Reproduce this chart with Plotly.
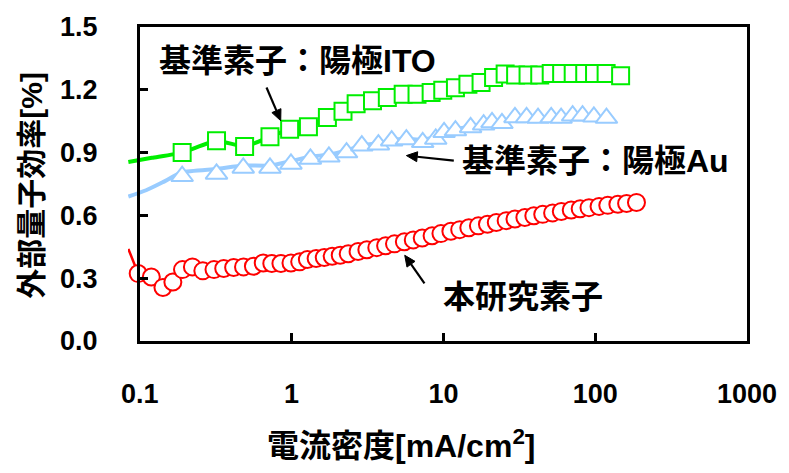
import math
import plotly.graph_objects as go

# ---------------- data ----------------
# reference device: anode ITO (green squares)
ito_x = [0.19, 0.32, 0.49, 0.72, 0.97, 1.29, 1.72, 2.18, 2.66, 3.41, 4.27, 5.43, 6.70, 8.3, 9.9,
         12.0, 14.5, 17.7, 21.4, 25.5, 29.9, 36.1, 43.1, 51.3, 60.1, 71.6, 85.3, 99, 118, 147]
ito_y = [0.900, 0.957, 0.929, 0.976, 1.011, 1.024, 1.068, 1.097, 1.133, 1.148, 1.163, 1.179, 1.179, 1.187, 1.198,
         1.210, 1.227, 1.235, 1.259, 1.275, 1.271, 1.271, 1.271, 1.278, 1.278, 1.278, 1.278, 1.278, 1.278, 1.267]
ito_line_x = [0.084, 0.12, 0.19, 0.32, 0.49, 0.72, 0.97, 1.29, 1.72, 2.18, 2.66, 3.41, 4.27, 5.43, 6.70, 8.3, 9.9,
              12.0, 14.5, 17.7, 21.4, 25.5, 29.9, 36.1, 43.1, 51.3, 60.1, 71.6, 85.3, 99, 118, 147]
ito_line_y = [0.855, 0.875, 0.900, 0.957, 0.929, 0.976, 1.011, 1.024, 1.068, 1.097, 1.133, 1.148, 1.163, 1.179, 1.179,
              1.187, 1.198, 1.210, 1.227, 1.235, 1.259, 1.275, 1.271, 1.271, 1.271, 1.278, 1.278, 1.278, 1.278, 1.278,
              1.278, 1.267]

# reference device: anode Au (light-blue triangles)
au_x = [0.19, 0.32, 0.48, 0.72, 0.99, 1.33, 1.76, 2.3, 2.9, 3.73, 4.56, 5.7, 7.3, 8.9, 10.1, 12.0, 15.1,
        18.4, 20.9, 24.3, 29.6, 35.3, 42, 51.3, 59.6, 71, 82.5, 98, 118.6]
au_y = [0.787, 0.798, 0.827, 0.827, 0.846, 0.870, 0.880, 0.900, 0.933, 0.938, 0.957, 0.962, 0.949, 0.965, 0.997,
        1.005, 1.020, 1.033, 1.044, 1.040, 1.068, 1.068, 1.065, 1.068, 1.065, 1.076, 1.076, 1.071, 1.065]
au_line_x = [0.084, 0.11, 0.142, 0.19, 0.32, 0.48, 0.72, 0.99, 1.33, 1.76, 2.3, 2.9, 3.73, 4.56, 5.7, 7.3, 8.9,
             10.1, 12.0, 15.1, 18.4, 20.9, 24.3, 29.6, 35.3, 42, 51.3, 59.6, 71, 82.5, 98, 118.6]
au_line_y = [0.690, 0.720, 0.759, 0.806, 0.822, 0.838, 0.838, 0.859, 0.881, 0.890, 0.910, 0.935, 0.945, 0.960,
             0.966, 0.962, 0.975, 1.000, 1.012, 1.025, 1.038, 1.045, 1.048, 1.062, 1.066, 1.066, 1.068, 1.068,
             1.070, 1.072, 1.070, 1.066]

# this work (red circles)
tw_x = [0.0975, 0.119, 0.142, 0.165, 0.191, 0.222, 0.26, 0.308, 0.357, 0.415, 0.482, 0.56, 0.65, 0.74, 0.85,
        0.99, 1.13, 1.27, 1.45, 1.64, 1.85, 2.09, 2.36, 2.74, 3.13, 3.64, 4.16, 4.76, 5.53, 6.33, 7.25, 8.42,
        9.63, 11.2, 12.8, 14.7, 17.0, 19.5, 22.3, 25.9, 29.6, 34.4, 39.4, 45.1, 52.4, 59.8, 69.5, 79.6, 91.0,
        106, 121, 141, 161, 187]
tw_y = [0.322, 0.306, 0.256, 0.282, 0.341, 0.354, 0.335, 0.341, 0.346, 0.351, 0.354, 0.357, 0.373, 0.370, 0.370,
        0.373, 0.378, 0.389, 0.394, 0.399, 0.405, 0.410, 0.417, 0.428, 0.436, 0.446, 0.455, 0.464, 0.474, 0.483,
        0.492, 0.503, 0.513, 0.524, 0.532, 0.541, 0.550, 0.558, 0.566, 0.575, 0.583, 0.590, 0.598, 0.605, 0.612,
        0.619, 0.626, 0.632, 0.637, 0.643, 0.648, 0.653, 0.657, 0.662]
tw_line_x0 = [0.084]
tw_line_y0 = [0.44]

x_tickvals = [0.1, 1, 10, 100, 1000]
x_ticktext = ["0.1", "1", "10", "100", "1000"]
y_tickvals = [0.0, 0.3, 0.6, 0.9, 1.2, 1.5]
y_ticktext = ["0.0", "0.3", "0.6", "0.9", "1.2", "1.5"]

# ---------------- figure ----------------
W, H = 789, 473
ML, MR, MT, MB = 128, 34, 26, 132
PLOT_W = W - ML - MR
PLOT_H = H - MT - MB
DEC_PX = (PLOT_W - 12) / 4.0          # pixels per decade of the visible frame
EXT = 12 / DEC_PX                      # extra decades left of the frame (line overhang)

GREEN = "#00ee00"
BLUE = "#99ccff"
RED = "#ff0000"
FONT = "Liberation Sans, Arial, Noto Sans CJK JP"

fig = go.Figure()

fig.add_trace(go.Scatter(x=ito_line_x, y=ito_line_y, mode="lines", line=dict(color=GREEN, width=4, shape="spline", smoothing=0.5),
                         hoverinfo="skip", showlegend=False))
fig.add_trace(go.Scatter(x=au_line_x, y=au_line_y, mode="lines", line=dict(color=BLUE, width=4, shape="spline", smoothing=0.5),
                         hoverinfo="skip", showlegend=False))
fig.add_trace(go.Scatter(x=tw_line_x0 + tw_x, y=tw_line_y0 + tw_y, mode="lines", line=dict(color=RED, width=2.5),
                         hoverinfo="skip", showlegend=False))

fig.add_trace(go.Scatter(x=ito_x, y=ito_y, mode="markers", cliponaxis=False,
                         marker=dict(symbol="square", size=17, color="white", line=dict(color=GREEN, width=2)),
                         showlegend=False))
fig.add_trace(go.Scatter(x=au_x, y=au_y, mode="markers", cliponaxis=False,
                         marker=dict(symbol="triangle-up", size=19, color="white", line=dict(color=BLUE, width=2)),
                         showlegend=False))
fig.add_trace(go.Scatter(x=tw_x, y=tw_y, mode="markers", cliponaxis=False,
                         marker=dict(symbol="circle", size=17, color="white", line=dict(color=RED, width=2)),
                         showlegend=False))

# empty trace that creates the visible frame subplot (drawn above the data)
fig.add_trace(go.Scatter(x=[], y=[], xaxis="x2", yaxis="y2", showlegend=False, hoverinfo="skip"))

axis_common = dict(showline=True, linewidth=3, linecolor="black", mirror=True, ticks="inside",
                   ticklen=8, tickwidth=3, tickcolor="black", showgrid=False, zeroline=False,
                   tickfont=dict(family=FONT, size=27, color="black", weight="bold"))

fig.update_layout(
    width=W, height=H,
    margin=dict(l=ML, r=MR, t=MT, b=MB),
    paper_bgcolor="white", plot_bgcolor="rgba(0,0,0,0)",
    showlegend=False,
    xaxis=dict(type="log", range=[-1 - EXT, 3], domain=[0, 1], visible=False),
    yaxis=dict(range=[0, 1.5], domain=[0, 1], visible=False),
    xaxis2=dict(type="log", range=[-1, 3], domain=[12 / PLOT_W, 1], anchor="y2",
                tickmode="array", tickvals=x_tickvals, ticktext=x_ticktext, ticklabelstandoff=27, **axis_common),
    yaxis2=dict(range=[0, 1.5], domain=[0, 1], anchor="x2",
                tickmode="array", tickvals=y_tickvals, ticktext=y_ticktext, ticklabelstandoff=34, **axis_common),
)

def px_to_paper(px, py):
    return (px - ML) / PLOT_W, (H - MB - py) / PLOT_H

label_font = dict(family=FONT, size=32, color="black", weight="bold")
texts = [
    ("基準素子：陽極ITO", 300, 60),
    ("基準素子：陽極Au", 602, 160),
    ("本研究素子", 528, 297),
]
for t, px, py in texts:
    ax_, ay_ = px_to_paper(px, py)
    fig.add_annotation(x=ax_, y=ay_, xref="paper", yref="paper", text=t, showarrow=False,
                       font=label_font, xanchor="center", yanchor="middle")

# arrows drawn as shapes: (head px, tail px)
arrows = [((282.7, 120), (268.3, 86.7)), ((410, 155), (458, 160)), ((408.3, 255), (428.3, 283.3))]
HEAD_L, HEAD_W = 11, 5
for (hx, hy), (tx, ty) in arrows:
    dx, dy = hx - tx, hy - ty
    L = math.hypot(dx, dy)
    ux, uy = dx / L, dy / L
    bx, by = hx - ux * HEAD_L, hy - uy * HEAD_L
    p1 = (bx - uy * HEAD_W, by + ux * HEAD_W)
    p2 = (bx + uy * HEAD_W, by - ux * HEAD_W)
    x0, y0 = px_to_paper(tx, ty)
    x1, y1 = px_to_paper(bx, by)
    fig.add_shape(type="line", xref="paper", yref="paper", x0=x0, y0=y0, x1=x1, y1=y1,
                  line=dict(color="black", width=2.2))
    pts = [px_to_paper(hx, hy), px_to_paper(*p1), px_to_paper(*p2)]
    path = "M {} {} L {} {} L {} {} Z".format(pts[0][0], pts[0][1], pts[1][0], pts[1][1], pts[2][0], pts[2][1])
    fig.add_shape(type="path", xref="paper", yref="paper", path=path, fillcolor="black",
                  line=dict(color="black", width=1))

# axis titles
x_, y_ = px_to_paper(405, 444)
fig.add_annotation(x=x_, y=y_, xref="paper", yref="paper", text="電流密度[mA/cm<sup>2</sup>]", showarrow=False,
                   font=dict(family=FONT, size=32, color="black", weight="bold"), xanchor="center", yanchor="middle")
x_, y_ = px_to_paper(30, 185)
fig.add_annotation(x=x_, y=y_, xref="paper", yref="paper", text="外部量子効率[%]", showarrow=False, textangle=-90,
                   font=dict(family=FONT, size=30, color="black", weight="bold"), xanchor="center", yanchor="middle")

fig.write_html("out.html", config={"displayModeBar": False},
               post_script="document.body.style.margin='0';document.body.style.overflow='hidden';")
